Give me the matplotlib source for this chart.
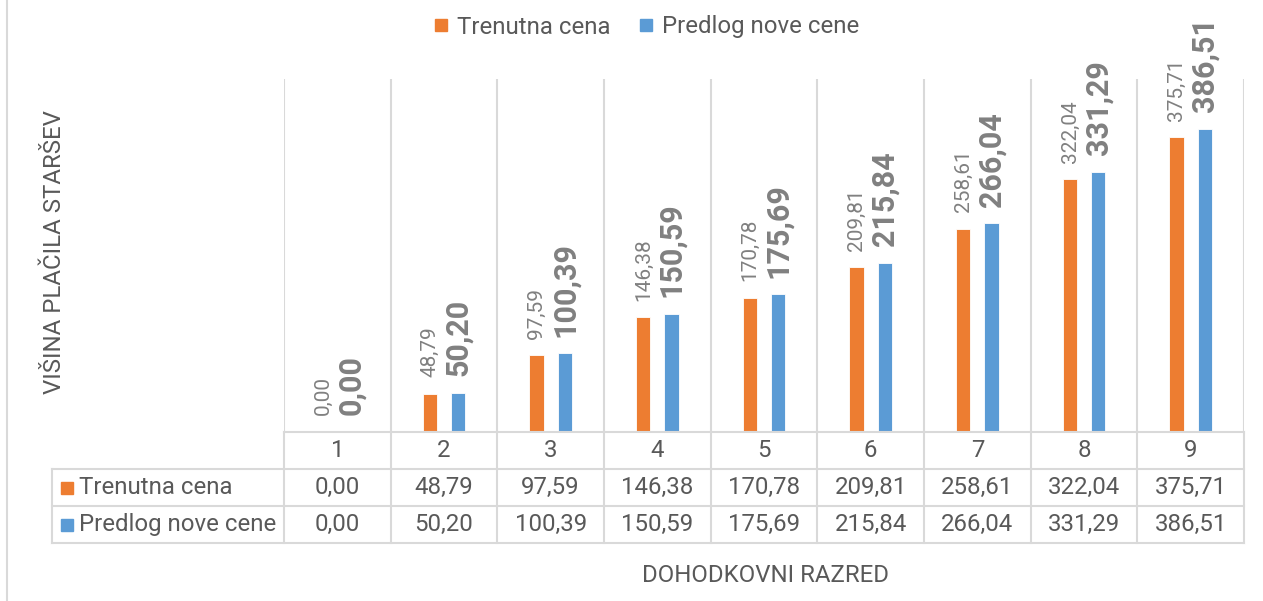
import matplotlib
matplotlib.use("Agg")
import matplotlib.pyplot as plt
from matplotlib.lines import Line2D

plt.rcParams['font.family'] = ['Roboto', 'DejaVu Sans']

# data
categories = ['1', '2', '3', '4', '5', '6', '7', '8', '9']
trenutna = [0.00, 48.79, 97.59, 146.38, 170.78, 209.81, 258.61, 322.04, 375.71]
predlog = [0.00, 50.20, 100.39, 150.59, 175.69, 215.84, 266.04, 331.29, 386.51]
series_names = ['Trenutna cena', 'Predlog nove cene']

ORANGE = '#ED7D31'
BLUE = '#5B9BD5'
TXT = '#595959'
LBL = '#808080'
GRID = '#D9D9D9'
FS = 17.3

W, H = 1263, 601


def fmt(v):
  return f"{v:.2f}".replace('.', ',')


def px_box(x0, y0, x1, y1):
  # pixel box (top-left origin) -> figure fraction
  return [x0 / W, 1 - y1 / H, (x1 - x0) / W, (y1 - y0) / H]


fig = plt.figure(figsize=(W / 100, H / 100), dpi=100)

#############################
# bar area
#############################
ax = fig.add_axes(px_box(284, 79, 1244, 432))
n = len(categories)
xs = [i + 0.5 for i in range(n)]
bw = 0.135
off = 0.132
ax.bar([x - off for x in xs], trenutna, width=bw, color=ORANGE,
       edgecolor='white', linewidth=0.6)
ax.bar([x + off for x in xs], predlog, width=bw, color=BLUE,
       edgecolor='white', linewidth=0.6)

for x, v in zip(xs, trenutna):
  ax.annotate(fmt(v), (x - off, v), xytext=(0, 12), textcoords='offset points',
              rotation=90, ha='center', va='bottom', fontsize=15, color=LBL)
for x, v in zip(xs, predlog):
  ax.annotate(fmt(v), (x + off, v), xytext=(0, 12), textcoords='offset points',
              rotation=90, ha='center', va='bottom', fontsize=22,
              fontweight='bold', color=LBL)

ax.set_xlim(0, n)
ax.set_ylim(0, 450)
ax.set_xticks(range(n + 1))
ax.set_yticks([])
ax.tick_params(length=0, labelbottom=False)
ax.grid(axis='x', color=GRID, linewidth=1.5)
ax.set_axisbelow(True)
for s in ax.spines.values():
  s.set_visible(False)

#############################
# data table under the bars
#############################
cw = 960 / n
tab = fig.add_axes(px_box(52, 432, 1244, 543))
x_left = -232 / cw
tab.set_xlim(x_left, n)
tab.set_ylim(3, 0)
tab.axis('off')

lk = dict(color=GRID, linewidth=1.5, clip_on=False)
# horizontal lines
tab.plot([0, n], [0, 0], **lk)
for y in (1, 2, 3):
  tab.plot([x_left, n], [y, y], **lk)
# vertical lines
for i in range(n + 1):
  tab.plot([i, i], [0, 3], **lk)
tab.plot([x_left] * 2, [1, 3], **lk)

for i, c in enumerate(categories):
  tab.text(i + 0.5, 0.5, c, ha='center', va='center', fontsize=FS, color=TXT)
for r, (vals, col) in enumerate([(trenutna, ORANGE), (predlog, BLUE)]):
  y = r + 1.5
  for i, v in enumerate(vals):
    tab.text(i + 0.5, y, fmt(v), ha='center', va='center', fontsize=FS, color=TXT)
  tab.plot([x_left + 15 / cw], [y], marker='s', markersize=8.5, color=col,
           linestyle='none', clip_on=False)
  tab.text(x_left + 27 / cw, y, series_names[r], ha='left', va='center',
           fontsize=FS, color=TXT)

#############################
# titles, legend, border
#############################
fig.text(55 / W, 1 - 252 / H, 'VIŠINA PLAČILA STARŠEV', rotation=90,
         ha='center', va='center', fontsize=FS, color=TXT)
fig.text(766 / W, 1 - 575 / H, 'DOHODKOVNI RAZRED', ha='center', va='center',
         fontsize=FS, color=TXT)

handles = [Line2D([], [], marker='s', linestyle='none', color=ORANGE, markersize=8.5),
           Line2D([], [], marker='s', linestyle='none', color=BLUE, markersize=8.5)]
fig.legend(handles, series_names, loc='center', bbox_to_anchor=(644 / W, 1 - 27 / H),
           ncol=2, frameon=False, fontsize=FS, labelcolor=TXT,
           handletextpad=0.15, columnspacing=1.0, handlelength=1.0)

fig.add_artist(Line2D([7 / W, 7 / W], [0, 1], color=GRID, linewidth=1.5))

fig.savefig('out.png', dpi=100)
